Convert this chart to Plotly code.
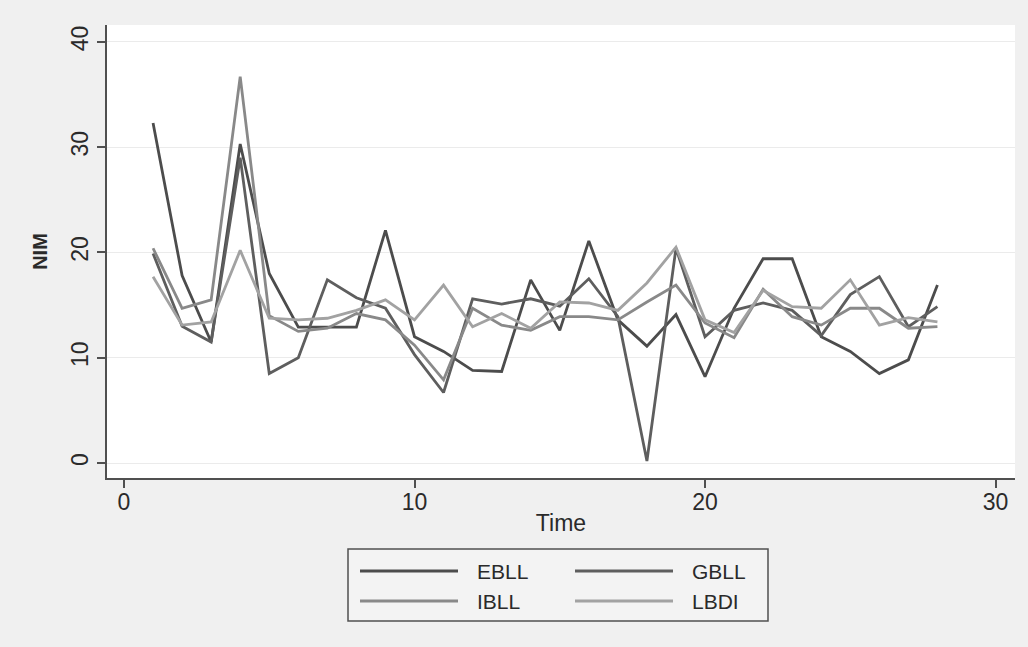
import plotly.graph_objects as go

# Time index (periods 1..28)
time = list(range(1, 29))

# Net interest margin by bank
ebll = [32.3, 17.8, 11.5, 30.3, 18.0, 12.9, 12.9, 12.9, 22.1, 12.0, 10.6, 8.8, 8.7, 17.4,
        12.6, 21.1, 13.6, 11.1, 14.1, 8.2, 14.7, 19.4, 19.4, 12.0, 10.6, 8.5, 9.8, 16.9]
gbll = [19.9, 13.0, 11.5, 29.0, 8.5, 10.0, 17.4, 15.7, 14.7, 10.3, 6.7, 15.6, 15.1, 15.6,
        14.9, 17.5, 13.9, 0.2, 20.4, 12.0, 14.5, 15.2, 14.5, 12.1, 16.0, 17.7, 12.95, 14.85]
ibll = [20.4, 14.7, 15.5, 36.7, 14.0, 12.5, 12.8, 14.2, 13.6, 11.2, 7.9, 14.7, 13.1, 12.6,
        13.9, 13.9, 13.6, 15.3, 16.9, 13.3, 11.9, 16.5, 13.9, 13.1, 14.7, 14.7, 12.8, 12.95]
lbdi = [17.7, 13.1, 13.4, 20.2, 13.75, 13.6, 13.75, 14.5, 15.5, 13.6, 16.9, 12.95, 14.2, 12.8,
        15.3, 15.2, 14.5, 17.1, 20.5, 13.6, 12.4, 16.4, 14.85, 14.7, 17.4, 13.1, 13.8, 13.4]

names = ["EBLL", "GBLL", "IBLL", "LBDI"]
series = [ebll, gbll, ibll, lbdi]
colors = ["#4c4c4c", "#5e5e5e", "#898989", "#a2a2a2"]

x_ticks = [0, 10, 20, 30]
y_ticks = [0, 10, 20, 30, 40]

FONT = "Liberation Sans, Arial, sans-serif"
TEXT = "#2a2a2a"

fig = go.Figure()
for name, vals, col in zip(names, series, colors):
    fig.add_trace(go.Scatter(x=time, y=vals, mode="lines", name=name,
                             line=dict(color=col, width=2.8), showlegend=False))

# Plot region geometry in pixels
W, H = 1028, 647
L, R, T, B = 107, 13, 25, 169
PW, PH = W - L - R, H - T - B


def px(xp):
    return (xp - L) / PW


def py(yp):
    return (H - B - yp) / PH


fig.update_layout(
    width=W, height=H,
    margin=dict(l=L, r=R, t=T, b=B),
    paper_bgcolor="#f0f0f0",
    plot_bgcolor="#ffffff",
    font=dict(family=FONT, color=TEXT),
    xaxis=dict(
        range=[-0.585, 30.67], tickvals=x_ticks, ticktext=[str(v) for v in x_ticks],
        showline=True, linecolor="#505050", linewidth=1.6, mirror=False,
        ticks="outside", ticklen=8, tickwidth=1.6, tickcolor="#505050",
        showgrid=False, zeroline=False, ticklabelstandoff=-5,
        tickfont=dict(size=23, color=TEXT),
        title=dict(text="Time", font=dict(size=23, color=TEXT), standoff=0),
    ),
    yaxis=dict(
        range=[-1.42, 41.6], tickvals=y_ticks, ticktext=[str(v) for v in y_ticks],
        showline=True, linecolor="#505050", linewidth=1.6,
        ticks="outside", ticklen=8, tickwidth=1.6, tickcolor="#505050",
        showgrid=True, gridcolor="#ebebeb", gridwidth=1.2, zeroline=False,
        tickangle=-90,
        tickfont=dict(size=23, color=TEXT),
        title=dict(text="<b>NIM</b>", font=dict(size=20, color=TEXT), standoff=14),
    ),
)

# Legend box with two columns
shapes = [dict(type="rect", xref="paper", yref="paper",
               x0=px(348), x1=px(768), y0=py(621), y1=py(549),
               line=dict(color="#505050", width=1.5), fillcolor="#f3f3f3", layer="below")]
annotations = []
slots = [(360, 458, 475, 571), (575, 673, 690, 571), (360, 458, 475, 601), (575, 673, 690, 601)]
for name, col, (lx0, lx1, tx, ly) in zip(names, colors, slots):
    shapes.append(dict(type="line", xref="paper", yref="paper",
                       x0=px(lx0), x1=px(lx1), y0=py(ly), y1=py(ly),
                       line=dict(color=col, width=2.8)))
    annotations.append(dict(xref="paper", yref="paper", x=px(tx), y=py(ly),
                            text=name, showarrow=False, xanchor="left", yanchor="middle",
                            font=dict(size=21, color=TEXT, family=FONT)))

fig.update_layout(shapes=shapes, annotations=annotations)

fig.write_html("out.html")
